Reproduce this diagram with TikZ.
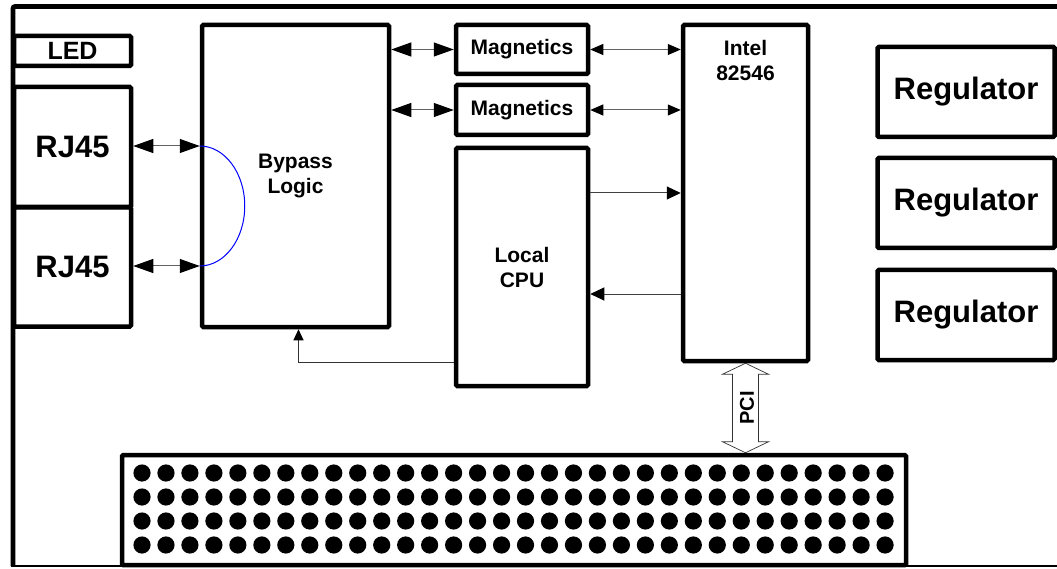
\documentclass[tikz,border=0pt]{standalone}
\usepackage{fontspec}
\setmainfont{Liberation Sans}
\usetikzlibrary{arrows.meta,calc}
\begin{document}
\begin{tikzpicture}[x=1pt,y=-1pt,
  box/.style={draw,line width=4.5pt,rounded corners=1.2pt,inner sep=0pt,align=center,font=\bfseries},
  fsmall/.style={font=\fontsize{21}{25}\selectfont\bfseries},
  fbig/.style={font=\fontsize{31}{36}\selectfont\bfseries},
  conn/.style={line width=1pt,draw=black!62},
  bigtips/.style={conn,{Triangle[length=20pt,width=14pt,color=black]}-{Triangle[length=20pt,width=14pt,color=black]}},
  midtips/.style={conn,{Triangle[length=13pt,width=11pt,color=black]}-{Triangle[length=13pt,width=11pt,color=black]}},
  onetip/.style={conn,draw=black!75,-{Triangle[length=14pt,width=13pt,color=black]}},
  smalltip/.style={conn,draw=black!80,-{Triangle[length=11pt,width=10pt,color=black]}},
  pcishape/.style={line width=0.7pt,draw=black!80},
  dot/.style={fill=black}]
\useasboundingbox (0,0) rectangle (1057,569);
% outer frame
\draw[line width=4.7pt,rounded corners=2pt] (1057,6.5) -- (13,6.5) -- (13,566);
\draw[line width=1.6pt] (11,566) -- (1057,566);
% boxes
\node[box,minimum width=117pt,minimum height=30pt,font=\fontsize{25}{30}\selectfont\bfseries] (led) at (72.5,51) {LED};
\node[box,minimum width=117pt,minimum height=120pt,fbig] (rj1) at (72.5,147) {RJ45};
\node[box,minimum width=117pt,minimum height=119pt,fbig] (rj2) at (72.5,267) {RJ45};
\node[box,minimum width=187pt,minimum height=302pt,fsmall] (bypass) at (295.5,176) {Bypass\\Logic};
\node[box,minimum width=132pt,minimum height=49pt,fsmall] (mag1) at (522,49.5) {Magnetics};
\node[box,minimum width=132pt,minimum height=50pt,fsmall] (mag2) at (522,110) {Magnetics};
\node[box,minimum width=132pt,minimum height=238pt,fsmall] (cpu) at (522,267) {Local\\CPU};
\node[box,minimum width=125pt,minimum height=336pt] (intel) at (745.5,193) {};
\node[fsmall,align=center,inner sep=0pt] (inteltxt) at (745.5,60.5) {Intel\\82546};
\node[box,minimum width=177pt,minimum height=90pt,fbig] (reg1) at (966,92) {Regulator};
\node[box,minimum width=177pt,minimum height=90pt,fbig] (reg2) at (966,203) {Regulator};
\node[box,minimum width=177pt,minimum height=90pt,fbig] (reg3) at (966,315) {Regulator};
\node[box,minimum width=784pt,minimum height=110pt] (bus) at (514,510) {};
% bus pins
\foreach \i in {0,...,31}
  \foreach \j in {0,...,3}
    \fill[dot] (142+\i*23.97,473+\j*24) circle[radius=8.6pt];
% connectors
\coordinate (a1) at ($(rj1.east -| bypass.west)+(0,-1)$);
\coordinate (a2) at ($(rj2.east -| bypass.west)+(0,-1)$);
\draw[bigtips] (a1 -| rj1.east) -- (a1);
\draw[bigtips] (a2 -| rj2.east) -- (a2);
\draw[blue,line width=1pt] (a1) arc[start angle=90,end angle=-90,x radius=45pt,y radius=60pt];
\draw[bigtips] (mag1.west -| bypass.east) -- (mag1.west);
\draw[bigtips] (mag2.west -| bypass.east) -- (mag2.west);
\draw[midtips] (mag1.east) -- (mag1.east -| intel.west);
\draw[midtips] (mag2.east) -- (mag2.east -| intel.west);
\draw[onetip] (cpu.east |- intel.west) -- (intel.west);
\coordinate (ret) at ($(intel.west)+(0,101)$);
\draw[onetip] (ret) -- (ret -| cpu.east);
\coordinate (fb) at ($(cpu.west)+(0,95)$);
\draw[smalltip] (fb) -| ($(bypass.south)+(3,0)$);
% PCI double block arrow
\coordinate (pt) at (intel.south);
\coordinate (pb) at (bus.north -| intel.south);
\draw[pcishape] (pt) -- ++(23,11) -- ++(-10,0) -- ($(pb)+(13,-11)$) -- ++(10,0) -- (pb)
  -- ++(-23,-11) -- ++(10,0) -- ($(pt)+(-13,11)$) -- ++(-10,0) -- cycle;
\node[font=\fontsize{20}{24}\selectfont\bfseries,rotate=90,inner sep=0pt] (pci) at ($(pt)!0.5!(pb)+(1.5,0)$) {PCI};
\end{tikzpicture}
\end{document}
